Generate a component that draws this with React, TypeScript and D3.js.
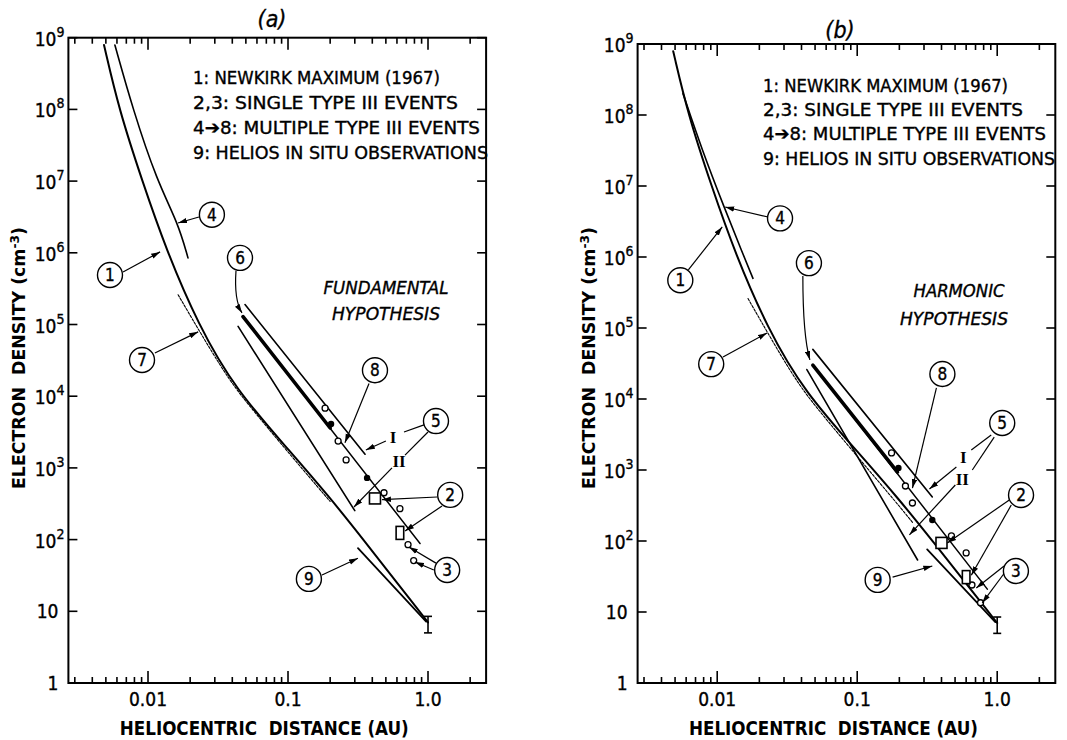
import React from 'react';
import * as d3 from 'd3';

type P = [number, number];

// ---------- data (AU, electron density cm^-3) ----------
const newkirkMax: P[] = [[0.00485, 7.9e8], [0.0062, 1e8], [0.0091, 1e7], [0.0135, 1.1e6], [0.0228, 1e5], [0.042, 1.25e4], [0.105, 1650], [0.2, 380], [0.316, 125], [1.0, 7]];
const helios: P[] = [[0.316, 76], [0.97, 7.2]];
const errBar = { au: 1.0, lo: 5, hi: 8.5 };

const curve4A: P[] = [[0.0058, 7.9e8], [0.0078, 1e8], [0.0116, 1e7], [0.0164, 2.6e6], [0.0193, 8.5e5]];
const curve7A: P[] = [[0.0164, 2.6e5], [0.0349, 2.1e4], [0.0509, 8000], [0.103, 1550], [0.2, 340]];
const curve5IA: P[] = [[0.0493, 1.9e5], [0.355, 1550]];
const curve5IIA: P[] = [[0.044, 9.4e4], [0.3, 253]];
const curve6A: P[] = [[0.0477, 1.29e5], [0.2, 3600]];
const curve8A: P[] = [[0.0477, 1.29e5], [0.877, 88]];
const openDotsA: P[] = [[0.184, 6800], [0.228, 2370], [0.26, 1290], [0.485, 450], [0.63, 270]];
const filledDotsA: P[] = [[0.203, 4100], [0.367, 725]];
const type3A: P[] = [[0.72, 85], [0.79, 51]];
const squaresA: P[] = [[0.418, 375]];
const rectsA: P[] = [[0.63, 124]];

const curve4B: P[] = [[0.0057, 2e8], [0.0078, 3.2e7], [0.0114, 4.6e6], [0.015, 1.2e6], [0.018, 5e5]];
const curve7B: P[] = [[0.0166, 2.6e5], [0.035, 2e4], [0.051, 7600], [0.103, 1450], [0.2, 310], [0.25, 180]];
const curve5IB: P[] = [[0.0482, 5e4], [0.344, 417]];
const curve5IIB: P[] = [[0.0437, 2.6e4], [0.27, 54]];
const curve6B: P[] = [[0.0482, 3e4], [0.194, 935]];
const curve8B: P[] = [[0.0482, 3e4], [0.85, 21]];
const openDotsB: P[] = [[0.176, 1740], [0.221, 595], [0.248, 343], [0.471, 118], [0.6, 68]];
const filledDotsB: P[] = [[0.197, 1070], [0.344, 198]];
const type3B: P[] = [[0.66, 24], [0.76, 13.5]];
const squaresB: P[] = [[0.4, 94]];
const rectsB: P[] = [[0.6, 31]];

const xDomain: P = [0.0027, 2.6];
const yDomain: P = [1, 1e9];
const yExponents = [0, 1, 2, 3, 4, 5, 6, 7, 8, 9];
const xTickLabels: [number, string][] = [[0.01, '0.01'], [0.1, '0.1'], [1, '1.0']];
const legendLines = ['1: NEWKIRK MAXIMUM (1967)', '2,3: SINGLE TYPE III EVENTS', '4\u27948: MULTIPLE TYPE III EVENTS', '9: HELIOS IN SITU OBSERVATIONS'];

// ---------- annotations (data coordinates) ----------
type Ann = {
  circles: { t: string; at: P }[];
  arrows: [P, P][];
  plain: [P, P][];
  roman: { t: string; at: P }[];
  curved: [P, P, P];
};

const annA: Ann = {
  circles: [
    { t: '1', at: [0.00535, 4.9e5] }, { t: '4', at: [0.0286, 3.4e6] }, { t: '6', at: [0.0454, 8.5e5] },
    { t: '7', at: [0.00906, 3.2e4] }, { t: '8', at: [0.418, 2.3e4] }, { t: '5', at: [1.14, 4500] },
    { t: '2', at: [1.44, 420] }, { t: '3', at: [1.37, 37.7] }, { t: '9', at: [0.141, 28.3] },
  ],
  arrows: [
    [[0.00663, 5.4e5], [0.0122, 1.03e6]], [[0.0231, 3.16e6], [0.0164, 2.6e6]], [[0.0112, 4.0e4], [0.0228, 7.9e4]],
    [[0.379, 1.5e4], [0.255, 2240]], [[0.5, 2370], [0.36, 1780]], [[0.553, 1000], [0.296, 285]],
    [[1.16, 393], [0.469, 360]], [[1.26, 294], [0.685, 132]], [[1.14, 47], [0.73, 79]], [[1.1, 37.7], [0.807, 48.7]],
    [[0.175, 32], [0.316, 55]],
  ],
  plain: [[[0.936, 3980], [0.674, 3170]], [[1.0, 3170], [0.685, 1510]]],
  roman: [{ t: 'I', at: [0.562, 2700] }, { t: 'II', at: [0.621, 1250] }],
  curved: [[0.0425, 5.6e5], [0.0411, 2.2e5], [0.0469, 1.45e5]],
};

const annB: Ann = {
  circles: [
    { t: '1', at: [0.00545, 4.7e5] }, { t: '4', at: [0.0281, 3.5e6] }, { t: '6', at: [0.0452, 8.2e5] },
    { t: '7', at: [0.00906, 3.1e4] }, { t: '8', at: [0.406, 2.25e4] }, { t: '5', at: [1.086, 4590] },
    { t: '2', at: [1.48, 445] }, { t: '3', at: [1.36, 37.8] }, { t: '9', at: [0.14, 28.3] },
  ],
  arrows: [
    [[0.00622, 6.6e5], [0.01086, 2.65e6]], [[0.0231, 3.66e6], [0.0114, 5.06e6]], [[0.011, 3.9e4], [0.0227, 8.5e4]],
    [[0.368, 1.43e4], [0.248, 557]], [[0.511, 1100], [0.328, 540]], [[0.502, 615], [0.236, 122]],
    [[1.22, 378], [0.44, 94]], [[1.26, 321], [0.653, 33]], [[1.12, 44.5], [0.709, 21.8]], [[1.14, 36.6], [0.782, 13.4]],
    [[0.179, 31], [0.344, 44.5]],
  ],
  plain: [[[0.906, 3110], [0.653, 1910]], [[0.952, 2900], [0.664, 1000]]],
  roman: [{ t: 'I', at: [0.573, 1520] }, { t: 'II', at: [0.563, 745] }],
  curved: [[0.0409, 5.4e5], [0.0409, 7.9e4], [0.0459, 3.55e4]],
};

// ---------- layout ----------
const W = 1067, H = 740;
const BOTTOM = 683;
const PXDEC = 140;
const FONT = "'DejaVu Sans Condensed','Liberation Sans Narrow','Arial Narrow','DejaVu Sans',sans-serif";
const SERIF = "'Liberation Serif','DejaVu Serif',serif";
const INK = { stroke: '#000', strokeWidth: 0.35 };

type PanelCfg = {
  left: number; top: number; title: string; titleX: number; titleY: number;
  legendX: number; legendY: number[]; legendW: number[];
  hyp: [string, string]; hypX: [number, number]; hypY: [number, number]; hypW: [number, number];
  curve4: P[]; curve7: P[]; c5I: P[]; c5II: P[]; c6: P[]; c8: P[];
  open: P[]; filled: P[]; t3: P[]; squares: P[]; rects: P[]; ann: Ann;
};

const panelA: PanelCfg = {
  left: 68.4, top: 37.7, title: '(a)', titleX: 272, titleY: 27,
  legendX: 193, legendY: [77, 102, 127, 152], legendW: [247, 265, 287, 295],
  hyp: ['FUNDAMENTAL', 'HYPOTHESIS'], hypX: [386, 386], hypY: [287, 313], hypW: [125, 108],
  curve4: curve4A, curve7: curve7A, c5I: curve5IA, c5II: curve5IIA, c6: curve6A, c8: curve8A,
  open: openDotsA, filled: filledDotsA, t3: type3A, squares: squaresA, rects: rectsA, ann: annA,
};
const panelB: PanelCfg = {
  left: 637.6, top: 44, title: '(b)', titleX: 840, titleY: 38,
  legendX: 763, legendY: [85, 109, 133, 158], legendW: [245, 260, 283, 292],
  hyp: ['HARMONIC', 'HYPOTHESIS'], hypX: [959, 954], hypY: [290, 318], hypW: [91, 108],
  curve4: curve4B, curve7: curve7B, c5I: curve5IB, c5II: curve5IIB, c6: curve6B, c8: curve8B,
  open: openDotsB, filled: filledDotsB, t3: type3B, squares: squaresB, rects: rectsB, ann: annB,
};

function Panel({ p }: { p: PanelCfg }) {
  const width = PXDEC * Math.log10(xDomain[1] / xDomain[0]);
  const x = d3.scaleLog().domain(xDomain).range([p.left, p.left + width]);
  const y = d3.scaleLog().domain(yDomain).range([BOTTOM, p.top]);
  const straight = d3.line<P>().x(d => x(d[0])).y(d => y(d[1]));
  const smooth = d3.line<P>().x(d => x(d[0])).y(d => y(d[1])).curve(d3.curveBasis);
  const x0 = x.range()[0], x1 = x.range()[1];
  const yT = y.range()[1], yB = y.range()[0];
  const isMajor = (t: number) => Math.abs(Math.log10(t) - Math.round(Math.log10(t))) < 1e-6;
  const xt = x.ticks();
  const [cx0, cy0] = [x(p.ann.curved[0][0]), y(p.ann.curved[0][1])];
  const [ccx, ccy] = [x(p.ann.curved[1][0]), y(p.ann.curved[1][1])];
  const [cx1, cy1] = [x(p.ann.curved[2][0]), y(p.ann.curved[2][1])];

  return (
    <g>
      {/* frame */}
      <rect x={x0} y={yT} width={x1 - x0} height={yB - yT} fill="none" stroke="#000" strokeWidth={2} />
      {/* x ticks top & bottom */}
      {xt.map((t, i) => {
        const L = isMajor(t) ? 12 : 6;
        return (
          <g key={i} stroke="#000" strokeWidth={1.6}>
            <line x1={x(t)} x2={x(t)} y1={yT} y2={yT + L} />
            <line x1={x(t)} x2={x(t)} y1={yB} y2={yB - L} />
          </g>
        );
      })}
      {/* y ticks */}
      {yExponents.map(e => (
        <g key={e} stroke="#000" strokeWidth={1.6}>
          <line x1={x0} x2={x0 + 9} y1={y(Math.pow(10, e))} y2={y(Math.pow(10, e))} />
          <line x1={x1} x2={x1 - 9} y1={y(Math.pow(10, e))} y2={y(Math.pow(10, e))} />
        </g>
      ))}
      {/* y tick labels */}
      {yExponents.map(e => {
        const yy = y(Math.pow(10, e));
        if (e === 0) return <text key={e} x={x0 - 10} y={yy + 7} fontFamily={FONT} fontSize={19} textAnchor="end" {...INK}>1</text>;
        if (e === 1) return <text key={e} x={x0 - 10} y={yy + 7} fontFamily={FONT} fontSize={19} textAnchor="end" {...INK}>10</text>;
        return (
          <text key={e} x={x0 - 4} y={yy + 8} fontFamily={FONT} fontSize={19} textAnchor="end" {...INK}>
            10<tspan dy={-9} fontSize={14}>{e}</tspan>
          </text>
        );
      })}
      {/* x tick labels */}
      {xTickLabels.map(([v, s]) => (
        <text key={s} x={x(v)} y={706} fontFamily={FONT} fontSize={19} textAnchor="middle" {...INK}>{s}</text>
      ))}
      {/* axis titles */}
      <text x={(x0 + x1) / 2 - 13} y={735} fontFamily={FONT} fontSize={19} fontWeight="bold" textAnchor="middle"
        textLength={289} lengthAdjust="spacingAndGlyphs" style={{ whiteSpace: 'pre' }}>HELIOCENTRIC  DISTANCE (AU)</text>
      <text transform={`translate(${x0 - 43},358) rotate(-90)`} fontFamily={FONT} fontSize={17} fontWeight="bold" textAnchor="middle"
        textLength={262} lengthAdjust="spacingAndGlyphs" style={{ whiteSpace: 'pre' }}>
        ELECTRON  DENSITY (cm<tspan dy={-6} fontSize={12}>-3</tspan><tspan dy={6}>)</tspan>
      </text>
      {/* title */}
      <text x={p.titleX} y={p.titleY} fontFamily={FONT} fontSize={23} fontStyle="italic" textAnchor="middle" {...INK}>{p.title}</text>
      {/* legend */}
      {legendLines.map((s, i) => (
        <text key={i} x={p.legendX} y={p.legendY[i] + 6.5} fontFamily={FONT} fontSize={18} {...INK}
          textLength={p.legendW[i]} lengthAdjust="spacingAndGlyphs">{s}</text>
      ))}
      {/* hypothesis */}
      {p.hyp.map((s, i) => (
        <text key={s} x={p.hypX[i]} y={p.hypY[i] + 7} fontFamily={FONT} fontSize={18} fontStyle="italic" textAnchor="middle" {...INK}
          textLength={p.hypW[i]} lengthAdjust="spacingAndGlyphs">{s}</text>
      ))}
      {/* curves */}
      <g fill="none" stroke="#000" strokeLinecap="round">
        <path d={smooth(newkirkMax) || ''} strokeWidth={2} />
        <path d={smooth(p.curve4) || ''} strokeWidth={1.6} />
        <path d={smooth(p.curve7) || ''} strokeWidth={1.1} strokeDasharray="2.5 1.5" />
        <path d={straight(p.c5I) || ''} strokeWidth={1.6} />
        <path d={straight(p.c5II) || ''} strokeWidth={1.6} />
        <path d={straight(p.c8) || ''} strokeWidth={1.5} />
        <path d={straight(p.c6) || ''} strokeWidth={3.6} />
        <path d={straight(helios) || ''} strokeWidth={1.8} />
      </g>
      {/* error bar at 1 AU */}
      <g stroke="#000" strokeWidth={1.6}>
        <line x1={x(errBar.au)} x2={x(errBar.au)} y1={y(errBar.lo)} y2={y(errBar.hi)} />
        <line x1={x(errBar.au) - 4} x2={x(errBar.au) + 4} y1={y(errBar.lo)} y2={y(errBar.lo)} />
        <line x1={x(errBar.au) - 4} x2={x(errBar.au) + 4} y1={y(errBar.hi)} y2={y(errBar.hi)} />
      </g>
      {/* points */}
      {p.open.concat(p.t3).map((d, i) => (
        <circle key={'o' + i} cx={x(d[0])} cy={y(d[1])} r={3} fill="#fff" stroke="#000" strokeWidth={1.3} />
      ))}
      {p.filled.map((d, i) => (
        <circle key={'f' + i} cx={x(d[0])} cy={y(d[1])} r={3.2} fill="#000" />
      ))}
      {p.squares.map((d, i) => (
        <rect key={'s' + i} x={x(d[0]) - 5.5} y={y(d[1]) - 5.5} width={11} height={11} fill="#fff" stroke="#000" strokeWidth={1.6} />
      ))}
      {p.rects.map((d, i) => (
        <rect key={'r' + i} x={x(d[0]) - 3.8} y={y(d[1]) - 6.5} width={7.6} height={13} fill="#fff" stroke="#000" strokeWidth={1.6} />
      ))}
      {/* annotations */}
      <g stroke="#000" strokeWidth={1.2} fill="none">
        {p.ann.arrows.map(([a, b], i) => (
          <line key={'a' + i} x1={x(a[0])} y1={y(a[1])} x2={x(b[0])} y2={y(b[1])} markerEnd="url(#ah)" />
        ))}
        {p.ann.plain.map(([a, b], i) => (
          <line key={'p' + i} x1={x(a[0])} y1={y(a[1])} x2={x(b[0])} y2={y(b[1])} />
        ))}
        <path d={`M${cx0},${cy0} Q${ccx},${ccy} ${cx1},${cy1}`} markerEnd="url(#ah)" />
      </g>
      {p.ann.circles.map(c => (
        <g key={'c' + c.t}>
          <circle cx={x(c.at[0])} cy={y(c.at[1])} r={12.5} fill="#fff" stroke="#000" strokeWidth={1.4} />
          <text x={x(c.at[0])} y={y(c.at[1]) + 6} fontFamily={FONT} fontSize={17} textAnchor="middle" {...INK}>{c.t}</text>
        </g>
      ))}
      {p.ann.roman.map(r => (
        <text key={'R' + r.t} x={x(r.at[0])} y={y(r.at[1]) + 6} fontFamily={SERIF} fontSize={17} fontWeight="bold" textAnchor="middle">{r.t}</text>
      ))}
    </g>
  );
}

export default function App() {
  return (
    <svg width={W} height={H} viewBox={`0 0 ${W} ${H}`} style={{ position: 'absolute', left: 0, top: 0, display: 'block' }}>
      <rect x={0} y={0} width={W} height={H} fill="#fff" />
      <defs>
        <marker id="ah" viewBox="0 0 10 6" refX={10} refY={3} markerWidth={9} markerHeight={6} markerUnits="userSpaceOnUse" orient="auto">
          <path d="M0,0L10,3L0,6z" fill="#000" />
        </marker>
      </defs>
      <Panel p={panelA} />
      <Panel p={panelB} />
    </svg>
  );
}
